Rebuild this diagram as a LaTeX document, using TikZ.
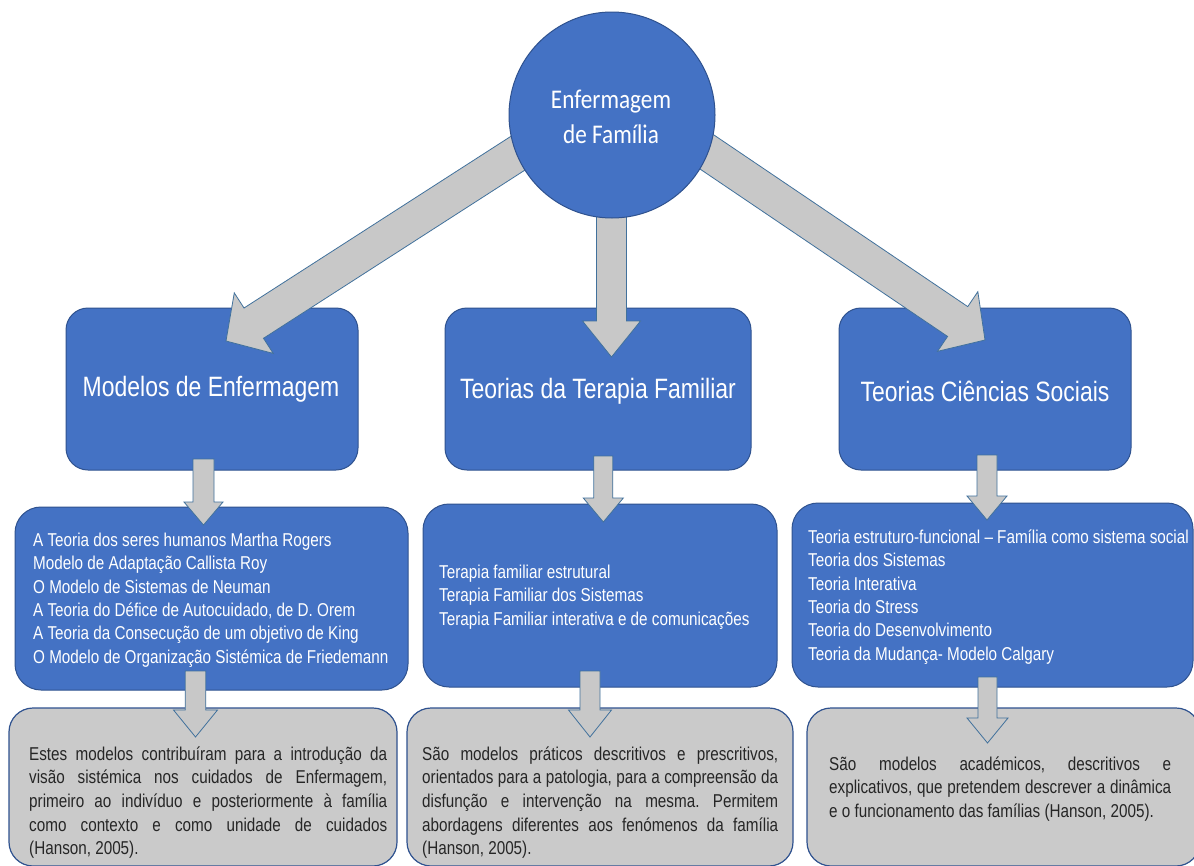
\documentclass[tikz,border=0pt]{standalone}
\usepackage{fontspec}
\setmainfont{Liberation Sans}
\newfontfamily\bodyf{Liberation Sans}[FakeStretch=0.82]
\newfontfamily\circf{Carlito}[FakeStretch=0.86]
\usetikzlibrary{calc}
\frenchspacing
\definecolor{boxblue}{HTML}{4472C4}
\definecolor{edgeblue}{HTML}{2F528F}
\definecolor{arrowgray}{HTML}{C8C8C8}
\definecolor{boxgray}{HTML}{CACACA}
\definecolor{arrowedge}{HTML}{41719C}
\definecolor{darktext}{HTML}{262626}
\tikzset{
  bluebox/.style={draw=edgeblue, line width=1pt, fill=boxblue, rounded corners=22pt, inner sep=0pt},
  graybox/.style={draw=edgeblue, line width=1.2pt, fill=boxgray, rounded corners=24pt, inner sep=0pt},
  blockarrow/.style={draw=arrowedge, line width=0.8pt, fill=arrowgray, line join=miter},
  titletext/.style={text=white, font=\bodyf\fontsize{28}{34}\selectfont, inner sep=0pt},
  listtext/.style={text=white, font=\bodyf\fontsize{18.6}{23.3}\selectfont, align=left, inner sep=0pt, anchor=west},
  paratext/.style={text=darktext, font=\bodyf\fontsize{18.6}{23.6}\selectfont, align=left, inner sep=0pt, anchor=west},
  roottext/.style={text=white, font=\circf\fontsize{27}{35}\selectfont, align=center, inner sep=0pt},
}
\newcommand\blockarr[5]{%
  \coordinate (#2-b) at ($(#2)!#5!(#1)$);
  \draw[blockarrow] (#2) -- ($(#2-b)!#4!90:(#1)$) -- ($(#2-b)!#3!90:(#1)$)
    -- ($(#1)!#3!-90:(#2)$) -- ($(#1)!#3!90:(#2)$)
    -- ($(#2-b)!#3!-90:(#1)$) -- ($(#2-b)!#4!-90:(#1)$) -- cycle;}
\begin{document}
\begin{tikzpicture}[x=1pt,y=-1pt]
\useasboundingbox (0,0) rectangle (1194,865);
\fill[white] (0,0) rectangle (1194,865);
% level 2
\node[bluebox, minimum width=292pt, minimum height=162pt] (m1) at (212,389) {};
\node[bluebox, minimum width=306pt, minimum height=162pt] (m2) at (598,389) {};
\node[bluebox, minimum width=292pt, minimum height=162pt] (m3) at (985,389) {};
% level 3
\node[bluebox, rounded corners=26pt, minimum width=393pt, minimum height=183pt] (la) at (211.5,598.5) {};
\node[bluebox, rounded corners=26pt, minimum width=354pt, minimum height=183pt] (lb) at (600,595.5) {};
\node[bluebox, rounded corners=26pt, minimum width=401pt, minimum height=184pt] (lc) at (992.5,595) {};
% level 4
\node[graybox, minimum width=388pt, minimum height=158pt] (pa) at (203,787) {};
\node[graybox, minimum width=386pt, minimum height=158pt] (pb) at (600,787) {};
\node[graybox, minimum width=393pt, minimum height=158pt] (pc) at (1003.5,787) {};
% arrow coordinates
\coordinate (dl-s) at (545.6,135.4);
\coordinate (dl-t) at (226,341);
\coordinate (dr-s) at (670,127);
\coordinate (dr-t) at (985,340);
\coordinate (dm-s) at (611.5,150);
\coordinate (dm-t) at (611.5,357);
\coordinate (s1-s) at (203.5,459);
\coordinate (s1-t) at (203.5,525);
\coordinate (s2-s) at (603.3,456);
\coordinate (s2-t) at (603.3,522);
\coordinate (s3-s) at (987,455);
\coordinate (s3-t) at (987,520);
\coordinate (d1-s) at (195.5,671);
\coordinate (d1-t) at (195.5,737);
\coordinate (d2-s) at (590,671);
\coordinate (d2-t) at (590,737);
\coordinate (d3-s) at (987.5,677);
\coordinate (d3-t) at (987.5,743);
\blockarr{dl-s}{dl-t}{18pt}{36pt}{33pt}
\blockarr{dr-s}{dr-t}{18pt}{36pt}{33pt}
\blockarr{dm-s}{dm-t}{15pt}{29pt}{36pt}
\blockarr{s1-s}{s1-t}{10.5pt}{19.5pt}{23pt}
\blockarr{s2-s}{s2-t}{9.5pt}{20pt}{24pt}
\blockarr{s3-s}{s3-t}{10pt}{20pt}{24pt}
\blockarr{d1-s}{d1-t}{10.3pt}{22pt}{27pt}
\blockarr{d2-s}{d2-t}{10pt}{21.5pt}{27pt}
\blockarr{d3-s}{d3-t}{9.5pt}{20.5pt}{25pt}
% root
\node[circle, draw=edgeblue, line width=1pt, fill=boxblue, minimum size=206pt, inner sep=0pt] (root) at (612,115) {};
\node[roottext] (roott) at (611,117) {Enfermagem\\de Família};
% titles
\node[titletext] (m1t) at (211,389) {Modelos de Enfermagem};
\node[titletext] (m2t) at (598,391) {Teorias da Terapia Familiar};
\node[titletext] (m3t) at (985,391) {Teorias Ciências Sociais};
% lists
\node[listtext] (lat) at (33,600) {A Teoria dos seres humanos Martha Rogers\\Modelo de Adaptação Callista Roy\\O Modelo de Sistemas de Neuman\\A Teoria do Défice de Autocuidado, de D. Orem\\A Teoria da Consecução de um objetivo de King\\O Modelo de Organização Sistémica de Friedemann};
\node[listtext] (lbt) at (439,597) {Terapia familiar estrutural\\Terapia Familiar dos Sistemas\\Terapia Familiar interativa e de comunicações};
\node[listtext] (lct) at (808,597) {Teoria estruturo-funcional – Família como sistema social\\Teoria dos Sistemas\\Teoria Interativa\\Teoria do Stress\\Teoria do Desenvolvimento\\Teoria da Mudança- Modelo Calgary};
% paragraphs
\node[paratext] (pat) at (29,802.5) {\makebox[358pt][s]{Estes modelos contribuíram para a introdução da}\\\makebox[358pt][s]{visão sistémica nos cuidados de Enfermagem,}\\\makebox[358pt][s]{primeiro ao indivíduo e posteriormente à família}\\\makebox[358pt][s]{como contexto e como unidade de cuidados}\\(Hanson, 2005).};
\node[paratext] (pbt) at (422,802.5) {\makebox[356pt][s]{São modelos práticos descritivos e prescritivos,}\\\makebox[356pt][s]{orientados para a patologia, para a compreensão da}\\\makebox[356pt][s]{disfunção e intervenção na mesma. Permitem}\\\makebox[356pt][s]{abordagens diferentes aos fenómenos da família}\\(Hanson, 2005).};
\node[paratext] (pct) at (829,789) {\makebox[342pt][s]{São modelos académicos, descritivos e}\\\makebox[342pt][s]{explicativos, que pretendem descrever a dinâmica}\\e o funcionamento das famílias (Hanson, 2005).};
\end{tikzpicture}
\end{document}
